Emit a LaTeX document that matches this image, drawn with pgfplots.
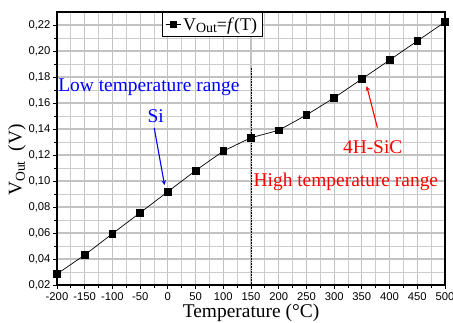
\documentclass[border=0pt]{standalone}
\usepackage{fontspec}
\setmainfont{Liberation Serif}
\newfontfamily\arial{Liberation Sans}
\usepackage{pgfplots}
\pgfplotsset{compat=1.18}
\begin{document}
\begin{tikzpicture}
\begin{axis}[
  scale only axis,
  width=388bp, height=273bp,
  xmin=-200, xmax=500, ymin=0.02, ymax=0.23,
  xtick={-200,-150,...,500},
  ytick={0.02,0.04,...,0.221},
  minor x tick num=1, minor y tick num=1,
  grid=both,
  major grid style={line width=1.2bp, color=black!24},
  minor grid style={line width=0.9bp, color=black!20},
  axis line style={line width=1.3bp},
  tick align=outside,
  major tick length=4bp, minor tick length=2.5bp,
  tick style={black, line width=0.8bp},
  xtick pos=bottom, ytick pos=left,
  /pgf/number format/assume math mode=true,
  yticklabel style={/pgf/number format/fixed, /pgf/number format/fixed zerofill, /pgf/number format/precision=2, /pgf/number format/use comma, xshift=1bp},
  xticklabel style={/pgf/number format/fixed, /pgf/number format/1000 sep={}, yshift=0bp},
  ticklabel style={font=\arial\fontsize{11.3}{13}\selectfont},
  xlabel={Temperature (°C)},
  xlabel style={font=\fontsize{19.5}{22}\selectfont, at={(axis description cs:0.5,0)}, anchor=north, yshift=-15bp},
  ylabel={V\textsubscript{Out}\ \ (V)},
  ylabel style={font=\fontsize{19.5}{22}\selectfont, at={(axis description cs:-0.103,0.458)}, anchor=center, rotate=0},
  legend style={at={(axis description cs:0.4,1)}, anchor=north, draw=black, line width=0.8bp,
    font=\fontsize{18}{20}\selectfont, inner xsep=3bp, inner ysep=3bp, row sep=0pt},
  legend cell align=left,
  legend image code/.code={
    \draw[black, line width=0.7bp] (0bp,0bp) -- (15bp,0bp);
    \fill[black] (4.5bp,-3bp) rectangle (10.5bp,3bp);
  },
]
\addplot[black, line width=0.7bp, mark=square*, mark size=3.3bp, mark options={solid}] coordinates {
(-200,0.0285) (-150,0.0431) (-100,0.0595) (-50,0.0756) (0,0.0918) (50,0.1080)
(100,0.1230) (150,0.1333) (200,0.1390) (250,0.1508) (300,0.1640) (350,0.1785)
(400,0.1930) (450,0.2077) (500,0.2223)
};
\addlegendentry{V\raisebox{-0.3ex}{\fontsize{14}{16}\selectfont Out}=\textit{f}(T)}
\addplot[black, line width=0.6bp, densely dotted, forget plot] coordinates {(150,0.187) (150,0.02)};
\node[blue, anchor=west, inner sep=0pt, font=\fontsize{19.5}{22}\selectfont] at (axis cs:-198,0.1723) {Low temperature range};
\node[blue, inner sep=0pt, font=\fontsize{19.5}{22}\selectfont] at (axis cs:-22,0.150) {Si};
\draw[blue, line width=1.1bp, -stealth] (axis cs:-24.6,0.1408) -- (axis cs:-6,0.0969);
\node[red, inner sep=0pt, font=\fontsize{19.5}{22}\selectfont] at (axis cs:369.6,0.1258) {4H-SiC};
\draw[red, line width=1.1bp, -stealth] (axis cs:378,0.141) -- (axis cs:358.8,0.173);
\node[red, anchor=west, inner sep=0pt, font=\fontsize{19.5}{22}\selectfont] at (axis cs:154.4,0.0992) {High temperature range};
\end{axis}
\pgfresetboundingbox
\path ([shift={(-57bp,-37bp)}]current axis.south west) rectangle ([shift={(8bp,12bp)}]current axis.north east);
\end{tikzpicture}
\end{document}
